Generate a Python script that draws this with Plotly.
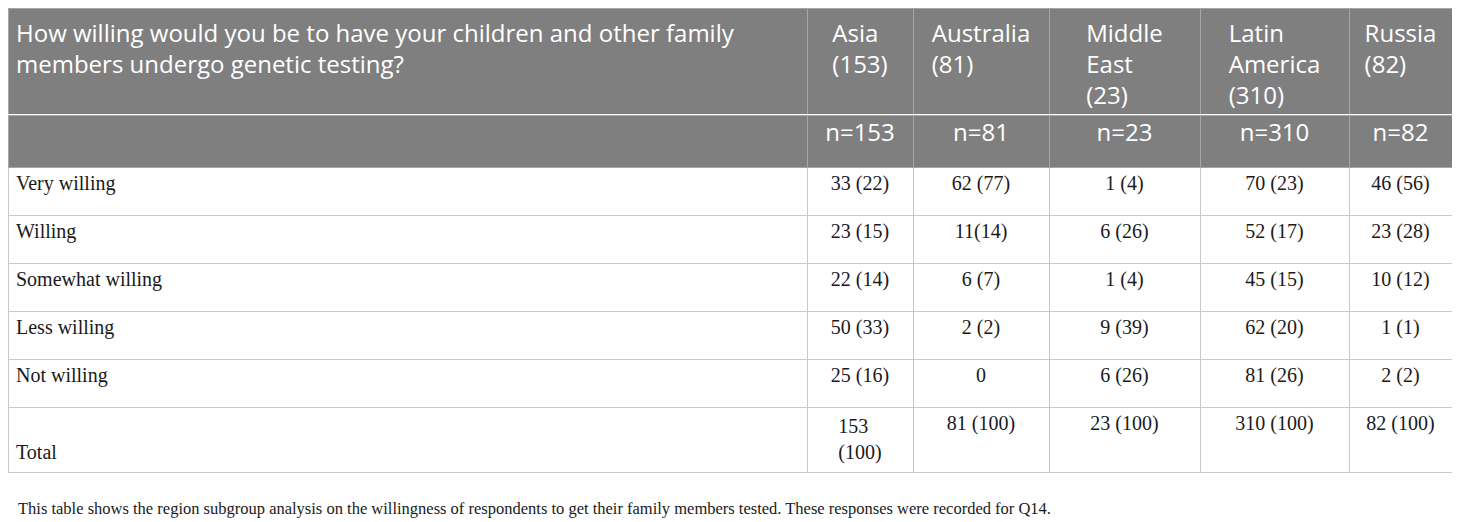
import plotly.graph_objects as go

# Header row (question + regions)
question = "How willing would you be to have your children and other family<br>members undergo genetic testing?"
regions = ["Asia<br>(153)", "Australia<br>(81)", "Middle<br>East<br>(23)", "Latin<br>America<br>(310)", "Russia<br>(82)"]

# Sample sizes row
n_row = ["", "n=153", "n=81", "n=23", "n=310", "n=82"]

# Body
answers = ["Very willing", "Willing", "Somewhat willing", "Less willing", "Not willing", "\u00a0<br>Total"]
asia = ["33 (22)", "23 (15)", "22 (14)", "50 (33)", "25 (16)", "153<br>(100)"]
australia = ["62 (77)", "11(14)", "6 (7)", "2 (2)", "0", "81 (100)"]
middle_east = ["1 (4)", "6 (26)", "1 (4)", "9 (39)", "6 (26)", "23 (100)"]
latin_america = ["70 (23)", "52 (17)", "45 (15)", "62 (20)", "81 (26)", "310 (100)"]
russia = ["46 (56)", "23 (28)", "10 (12)", "1 (1)", "2 (2)", "82 (100)"]

caption = ("This table shows the region subgroup analysis on the willingness of respondents "
           "to get their family members tested. These responses were recorded for Q14.")

W, H = 1460, 522
gray = "#7f7f7f"
col_widths = [799, 106, 136, 151, 149, 103]
align = ["left"] + ["center"] * 5
header_font = dict(family="Open Sans", size=24, color="white")

fig = go.Figure()

# n= row + body (drawn first)
fig.add_trace(go.Table(
    domain=dict(x=[0, 1444 / W], y=[0, 1 - 107 / H]),
    columnwidth=col_widths,
    header=dict(
        values=n_row,
        fill_color=gray,
        line=dict(color="#a6a6a6", width=1),
        align=align,
        font=header_font,
        height=52,
    ),
    cells=dict(
        values=[answers, asia, australia, middle_east, latin_america, russia],
        fill_color="white",
        line=dict(color="#c8c8c8", width=1),
        align=align,
        font=dict(family="Liberation Serif", size=20, color="#1a1a1a"),
        height=48,
    ),
))

# top header block: question + regions
fig.add_trace(go.Table(
    domain=dict(x=[0, 1444 / W], y=[1 - 107 / H, 1]),
    columnwidth=col_widths,
    header=dict(
        values=[question] + regions,
        fill_color=gray,
        line=dict(color="#a6a6a6", width=1),
        align=align,
        font=header_font,
        height=107,
    ),
))

fig.add_annotation(
    text=caption, x=8 / W, y=1 - 500 / H, xref="paper", yref="paper",
    xanchor="left", yanchor="middle", showarrow=False,
    font=dict(family="Liberation Serif", size=16.5, color="#1a1a1a"),
)

fig.update_layout(
    width=W, height=H,
    margin=dict(l=0, r=0, t=0, b=0),
    paper_bgcolor="white",
)

fig.write_html("out.html")
